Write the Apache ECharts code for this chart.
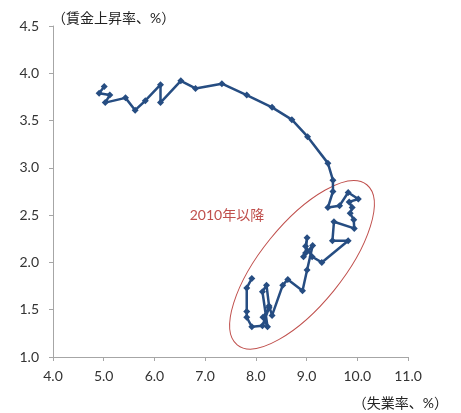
<!DOCTYPE html>
<html>
<head>
<meta charset="utf-8">
<script src="https://cdn.jsdelivr.net/npm/echarts@6/dist/echarts.min.js"></script>
<style>html,body{margin:0;padding:0;background:#fff}#c{width:461px;height:413px}</style>
</head>
<body>
<div id="c"></div>
<script>
// Unemployment rate (%), x values, in path order
var unemployment = [5.01,4.91,5.12,5.03,5.43,5.62,5.82,6.12,6.12,6.52,6.81,7.33,
  7.82,8.32,8.71,9.02,9.42,9.52,9.52,9.42,9.65,9.82,10.02,9.84,
  9.90,9.86,9.93,9.94,9.54,9.51,9.82,9.30,9.11,8.98,9.01,8.98,
  8.94,9.12,9.01,8.92,8.63,8.53,8.32,8.26,8.21,8.13,8.23,8.14,
  8.26,8.13,7.92,7.82,7.82,7.82,7.92];
// Wage growth (%), y values, same order
var wageGrowth = [3.86,3.79,3.77,3.69,3.74,3.61,3.71,3.88,3.69,3.92,3.84,3.89,
  3.77,3.64,3.51,3.33,3.05,2.87,2.75,2.58,2.60,2.74,2.67,2.64,
  2.58,2.52,2.45,2.36,2.43,2.23,2.23,2.00,2.06,2.17,2.26,2.10,
  2.06,2.18,1.92,1.70,1.82,1.76,1.44,1.54,1.76,1.69,1.32,1.42,
  1.52,1.33,1.32,1.42,1.48,1.73,1.83];
var xTicks = [4, 11, 1];
var yTicks = [1, 4.5, 0.5];
var yTitle = '（賃金上昇率、%）';
var xTitle = '（失業率、%）';
var noteText = '2010年以降';

var pts = unemployment.map(function (u, i) { return [u, wageGrowth[i]]; });
var FONT = 'Lato, "Noto Sans CJK JP", sans-serif';
var chart = echarts.init(document.getElementById('c'), null, {renderer: 'canvas'});
var axisCommon = {
  axisLine: {show: true, lineStyle: {color: '#a6a6a6', width: 1}},
  axisTick: {show: true, length: 4, lineStyle: {color: '#a6a6a6'}},
  splitLine: {show: false},
  axisLabel: {color: '#333', fontSize: 14, fontFamily: FONT, formatter: function (v) { return v.toFixed(1); }}
};
chart.setOption({
  animation: false,
  grid: {left: 53, right: 53, top: 26, bottom: 56, containLabel: false},
  xAxis: Object.assign({type: 'value', min: xTicks[0], max: xTicks[1], interval: xTicks[2]}, axisCommon,
    {axisLabel: Object.assign({}, axisCommon.axisLabel, {margin: 12})}),
  yAxis: Object.assign({type: 'value', min: yTicks[0], max: yTicks[1], interval: yTicks[2]}, axisCommon,
    {axisLabel: Object.assign({}, axisCommon.axisLabel, {margin: 14})}),
  series: [{
    type: 'line',
    data: pts,
    symbol: 'diamond',
    symbolSize: 7,
    showAllSymbol: true,
    lineStyle: {color: '#264d82', width: 2.5},
    itemStyle: {color: '#264d82'}
  }]
});
var c = chart.convertToPixel({gridIndex: 0}, [8.91, 1.975]);
var t = chart.convertToPixel({gridIndex: 0}, [7.43, 2.50]);
var y0 = chart.convertToPixel({gridIndex: 0}, [4, 4.5]);
var x1 = chart.convertToPixel({gridIndex: 0}, [11, 1]);
chart.setOption({
  graphic: [
    {type: 'ellipse', x: c[0], y: c[1], rotation: 51 * Math.PI / 180,
      shape: {cx: 0, cy: 0, rx: 103, ry: 41},
      style: {fill: 'none', stroke: '#c0504d', lineWidth: 1}, z: 1},
    {type: 'text', x: t[0], y: t[1], style: {text: noteText, fill: '#c0504d', font: '14px ' + FONT, align: 'center', verticalAlign: 'middle'}, z: 5},
    {type: 'text', x: y0[0] - 1, y: y0[1] - 8, style: {text: yTitle, fill: '#222', font: '14px ' + FONT, align: 'left', verticalAlign: 'middle'}},
    {type: 'text', x: x1[0] + 40, y: x1[1] + 46, style: {text: xTitle, fill: '#222', font: '14px ' + FONT, align: 'right', verticalAlign: 'middle'}}
  ]
});
</script>
</body>
</html>
